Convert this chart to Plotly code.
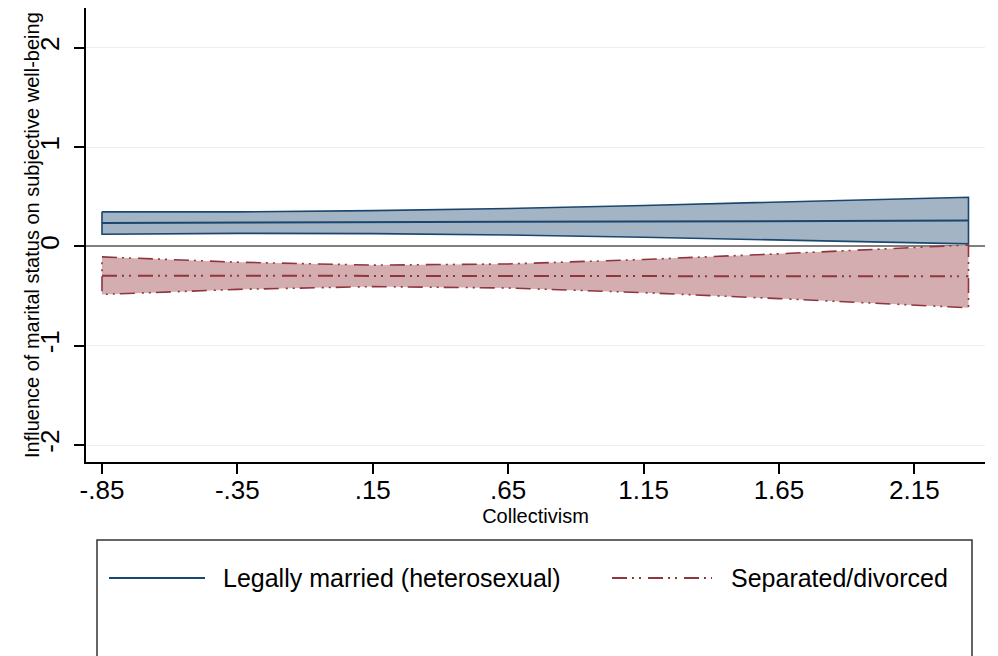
import plotly.graph_objects as go

# ---- data ----
collectivism = [-0.85, -0.35, 0.15, 0.65, 1.15, 1.65, 2.35]
married_est = [0.235, 0.239, 0.244, 0.248, 0.252, 0.256, 0.260]
married_lo = [0.122, 0.131, 0.128, 0.114, 0.092, 0.067, 0.025]
married_hi = [0.348, 0.347, 0.360, 0.382, 0.412, 0.445, 0.495]
divorced_est = [-0.295, -0.296, -0.297, -0.298, -0.299, -0.300, -0.302]
divorced_lo = [-0.484, -0.433, -0.405, -0.419, -0.466, -0.526, -0.618]
divorced_hi = [-0.106, -0.159, -0.189, -0.177, -0.132, -0.075, 0.014]

xtick_vals = [-0.85, -0.35, 0.15, 0.65, 1.15, 1.65, 2.15]
xtick_text = ["-.85", "-.35", ".15", ".65", "1.15", "1.65", "2.15"]
ytick_vals = [-2, -1, 0, 1, 2]
ytick_text = ["-2", "-1", "0", "1", "2"]

series_names = ["Legally married (heterosexual)", "Separated/divorced"]
x_title = "Collectivism"
y_title = "Influence of marital status on subjective well-being"

NAVY = "#1a476f"
NAVY_FILL = "#a3b4c4"
MAROON = "#90353b"
MAROON_FILL = "#d3adb0"
DASHDOT = "15px,5px,2px,5px,2px,7px"
FONT = "Liberation Sans, Arial, sans-serif"


def band(xs, lo, hi):
    px = list(xs) + list(xs)[::-1]
    py = list(hi) + list(lo)[::-1]
    return px + [px[0]], py + [py[0]]


fig = go.Figure()

bx, by = band(collectivism, married_lo, married_hi)
fig.add_trace(go.Scatter(x=bx, y=by, mode="lines", fill="toself",
                         fillcolor=NAVY_FILL,
                         line=dict(color=NAVY, width=1.6),
                         showlegend=False, hoverinfo="skip"))

rx, ry = band(collectivism, divorced_lo, divorced_hi)
fig.add_trace(go.Scatter(x=rx, y=ry, mode="lines", fill="toself",
                         fillcolor=MAROON_FILL,
                         line=dict(color=MAROON, width=1.6, dash=DASHDOT),
                         showlegend=False, hoverinfo="skip"))

fig.add_trace(go.Scatter(x=collectivism, y=married_est, mode="lines",
                         name=series_names[0],
                         line=dict(color=NAVY, width=2), showlegend=False))
fig.add_trace(go.Scatter(x=collectivism, y=divorced_est, mode="lines",
                         name=series_names[1],
                         line=dict(color=MAROON, width=2, dash=DASHDOT),
                         showlegend=False))

# plot area in window pixels: left 86, right 985, top 8, bottom 462
def px2paper_x(px):
    return (px - 86) / 899.0


def px2paper_y(py):
    return (462 - py) / 454.0


shapes = [
    dict(type="rect", xref="paper", yref="paper",
         x0=px2paper_x(97), x1=px2paper_x(972),
         y0=px2paper_y(540), y1=px2paper_y(720),
         line=dict(color="#333333", width=1.5), fillcolor="rgba(0,0,0,0)"),
    dict(type="line", xref="paper", yref="paper",
         x0=px2paper_x(109), x1=px2paper_x(205),
         y0=px2paper_y(578), y1=px2paper_y(578),
         line=dict(color=NAVY, width=2)),
    dict(type="line", xref="paper", yref="paper",
         x0=px2paper_x(612), x1=px2paper_x(712),
         y0=px2paper_y(578), y1=px2paper_y(578),
         line=dict(color=MAROON, width=2, dash=DASHDOT)),
]
annotations = [
    dict(text=series_names[0], xref="paper", yref="paper",
         x=px2paper_x(221), y=px2paper_y(578), xanchor="left", yanchor="middle",
         showarrow=False, font=dict(family=FONT, size=25, color="black")),
    dict(text=series_names[1], xref="paper", yref="paper",
         x=px2paper_x(729), y=px2paper_y(578), xanchor="left", yanchor="middle",
         showarrow=False, font=dict(family=FONT, size=25, color="black")),
    dict(text=y_title, xref="paper", yref="paper",
         x=px2paper_x(32), y=0.5, xanchor="center", yanchor="middle",
         textangle=-90, showarrow=False,
         font=dict(family=FONT, size=20, color="black")),
]

# the page body adds an 8px offset, so the figure is 990x648 with shifted margins
fig.update_layout(
    width=990, height=648,
    margin=dict(l=78, r=13, t=0, b=194),
    paper_bgcolor="white", plot_bgcolor="white",
    font=dict(family=FONT, color="black"),
    shapes=shapes, annotations=annotations,
    showlegend=False,
)
fig.update_xaxes(
    range=[-0.909, 2.411],
    tickmode="array", tickvals=xtick_vals, ticktext=xtick_text,
    tickfont=dict(size=26, family=FONT),
    ticks="outside", ticklen=10, tickwidth=1.5, tickcolor="black",
    ticklabelstandoff=-6,
    showline=True, linecolor="black", linewidth=1.5,
    showgrid=False, zeroline=False,
    title=dict(text=x_title, font=dict(size=20, family=FONT), standoff=2),
)
fig.update_yaxes(
    range=[-2.171, 2.40],
    tickmode="array", tickvals=ytick_vals, ticktext=ytick_text,
    tickangle=-90,
    tickfont=dict(size=26, family=FONT),
    ticks="outside", ticklen=10, tickwidth=1.5, tickcolor="black",
    ticklabelstandoff=5,
    showline=True, linecolor="black", linewidth=1.5,
    showgrid=True, gridcolor="#e8f0f2", gridwidth=1,
    zeroline=True, zerolinecolor="#808080", zerolinewidth=2,
)

fig.write_html("out.html")
